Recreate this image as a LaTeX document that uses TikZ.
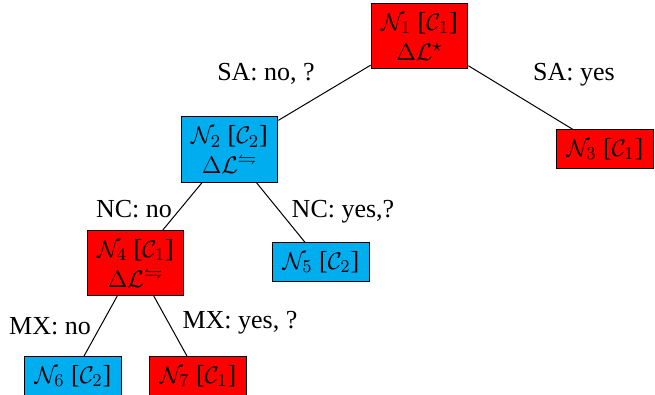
\documentclass[tikz,border=0pt]{standalone}
\usepackage[no-math]{fontspec}
\setmainfont{Liberation Serif}
\usepackage{amssymb}
\definecolor{nred}{RGB}{255,0,0}
\definecolor{nblue}{RGB}{0,174,239}
\begin{document}
\begin{tikzpicture}[x=0.5pt,y=-0.5pt,
  every node/.style={font=\fontsize{13}{15}\selectfont},
  tnode/.style={draw=black,line width=0.5pt,align=center,inner xsep=5pt,inner ysep=4.25pt},
  rednode/.style={tnode,fill=nred},
  bluenode/.style={tnode,fill=nblue},
  edge/.style={draw=black,line width=0.5pt},
  elabel/.style={inner sep=0pt}]
\useasboundingbox (0,0) rectangle (655,395);
\node[rednode]  (n1) at (419.5,36) {$\mathcal{N}_1$ [$\mathcal{C}_1$]\\$\Delta\mathcal{L}^\star$};
\node[bluenode] (n2) at (229.5,149.5) {$\mathcal{N}_2$ [$\mathcal{C}_2$]\\$\Delta\mathcal{L}^{\leftrightharpoons}$};
\node[rednode]  (n3) at (605,149) {$\mathcal{N}_3$ [$\mathcal{C}_1$]};
\node[rednode]  (n4) at (135.5,263) {$\mathcal{N}_4$ [$\mathcal{C}_1$]\\$\Delta\mathcal{L}^{\leftrightharpoons}$};
\node[bluenode] (n5) at (321,262) {$\mathcal{N}_5$ [$\mathcal{C}_2$]};
\node[bluenode] (n6) at (73,376) {$\mathcal{N}_6$ [$\mathcal{C}_2$]};
\node[rednode]  (n7) at (198,376) {$\mathcal{N}_7$ [$\mathcal{C}_1$]};
\draw[edge] (n1) -- (n2);
\draw[edge] (n1) -- (n3);
\draw[edge] (n2) -- (n4);
\draw[edge] (n2) -- (n5);
\draw[edge] (n4) -- (n6);
\draw[edge] (n4) -- (n7);
\node[elabel] (l1) at (266,74) {SA: no, ?};
\node[elabel] (l2) at (574,75) {SA: yes};
\node[elabel] (l3) at (134,209) {NC: no};
\node[elabel] (l4) at (343,212) {NC: yes,?};
\node[elabel] (l5) at (50,326) {MX: no};
\node[elabel] (l6) at (240,323) {MX: yes, ?};
\end{tikzpicture}
\end{document}
